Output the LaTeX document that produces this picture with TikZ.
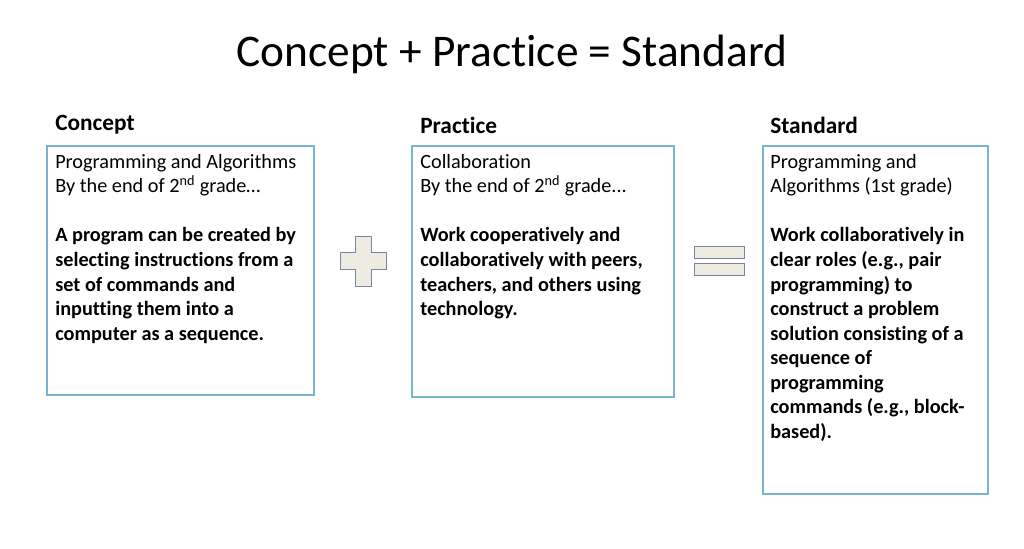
\documentclass[tikz,border=0pt]{standalone}
\usepackage{fontspec}
\setmainfont[Ligatures=NoCommon]{Carlito}
\definecolor{boxc}{RGB}{120,180,205}
\definecolor{symf}{RGB}{238,236,225}
\definecolor{symd}{RGB}{120,135,160}
\begin{document}
\begin{tikzpicture}[x=0.75pt,y=-0.75pt,
  box/.style={draw=boxc, line width=0.9pt},
  hdr/.style={anchor=west, inner sep=0pt, font=\fontsize{17.5}{20}\selectfont\bfseries},
  body/.style={anchor=north west, align=left, inner sep=0pt, font=\fontsize{15.2}{18.4}\selectfont},
  sym/.style={draw=symd, fill=symf, line width=0.7pt}]
\useasboundingbox (0,0) rectangle (1024,549);
\node (title) at (512,54) {\fontsize{34}{40}\selectfont Concept + Practice = Standard};
\node[hdr] (h1) at (55,125) {Concept};
\node[hdr] (h2) at (420,125) {Practice};
\node[hdr] (h3) at (770,125) {Standard};
\draw[box] (47,146) rectangle (314,395);
\draw[box] (412,146) rectangle (674,397);
\draw[box] (763,146) rectangle (988,494);
\node[body] (t1) at (55,154) {Programming and Algorithms\\By the end of 2\textsuperscript{nd} grade…\\[18.4pt]
\textbf{A program can be created by}\\\textbf{selecting instructions from a}\\\textbf{set of commands and}\\\textbf{inputting them into a}\\\textbf{computer as a sequence.}};
\node[body] (t2) at (420,154) {Collaboration\\By the end of 2\textsuperscript{nd} grade...\\[18.4pt]
\textbf{Work cooperatively and}\\\textbf{collaboratively with peers,}\\\textbf{teachers, and others using}\\\textbf{technology.}};
\node[body] (t3) at (770,154) {Programming and\\Algorithms (1st grade)\\[18.4pt]
\textbf{Work collaboratively in}\\\textbf{clear roles (e.g., pair}\\\textbf{programming) to}\\\textbf{construct a problem}\\\textbf{solution consisting of a}\\\textbf{sequence of}\\\textbf{programming}\\\textbf{commands (e.g., block-}\\\textbf{based).}};
\draw[sym] (355,236) -- (371,236) -- (371,252) -- (386,252) -- (386,269) -- (371,269) -- (371,286) -- (355,286) -- (355,269) -- (340,269) -- (340,252) -- (355,252) -- cycle;
\draw[sym] (694,246) rectangle (744,258);
\draw[sym] (694,263) rectangle (744,275);
\end{tikzpicture}
\end{document}
